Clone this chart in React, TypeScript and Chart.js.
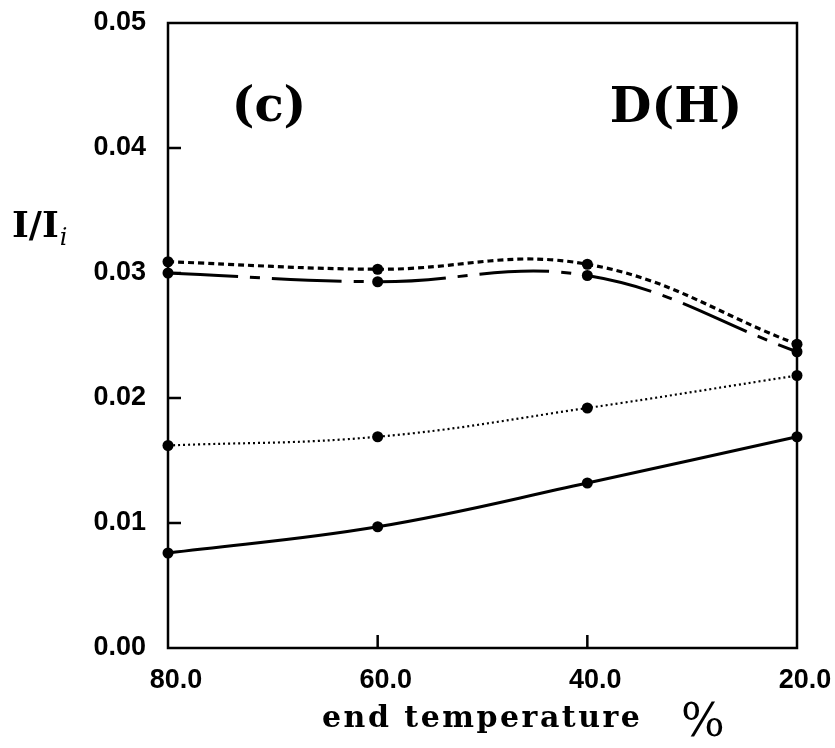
import React, { useEffect, useRef } from "react";
import { Chart, registerables } from "chart.js";
Chart.register(...registerables);

const temperatures = [80, 60, 40, 20];
const xTickValues = [80, 60, 40, 20];
const yTickValues = [0, 0.01, 0.02, 0.03, 0.04, 0.05];
const seriesSolid = [0.0076, 0.0097, 0.0132, 0.0169];
const seriesDotted = [0.0162, 0.0169, 0.0192, 0.0218];
const seriesShortDash = [0.0309, 0.0303, 0.0307, 0.0243];
const seriesLongDash = [0.03, 0.0293, 0.0298, 0.0237];
const panelLabel = "(c)";
const seriesLabel = "D(H)";
const xTitle = "end temperature";
const xUnit = "%";

const toPoints = (ys: number[]) => temperatures.map((t, i) => ({ x: t, y: ys[i] }));

const framePlugin = {
  id: "frame",
  beforeDatasetsDraw(chart: any) {
    const { ctx, chartArea } = chart;
    const xs = chart.scales.x;
    const ys = chart.scales.y;
    ctx.save();
    ctx.strokeStyle = "#000";
    ctx.lineWidth = 2.5;
    ctx.strokeRect(chartArea.left, chartArea.top, chartArea.right - chartArea.left, chartArea.bottom - chartArea.top);
    ctx.beginPath();
    yTickValues.forEach((v) => {
      if (v <= ys.min || v >= ys.max) return;
      const py = ys.getPixelForValue(v);
      ctx.moveTo(chartArea.left, py);
      ctx.lineTo(chartArea.left + 13, py);
    });
    xTickValues.forEach((v) => {
      if (v <= xs.min || v >= xs.max) return;
      const px = xs.getPixelForValue(v);
      ctx.moveTo(px, chartArea.bottom);
      ctx.lineTo(px, chartArea.bottom - 13);
    });
    ctx.stroke();
    ctx.restore();
  },
  afterDraw(chart: any) {
    const { ctx } = chart;
    ctx.save();
    ctx.fillStyle = "#000";
    ctx.textBaseline = "alphabetic";
    ctx.textAlign = "center";
    ctx.font = "bold 48px 'DejaVu Serif'";
    ctx.fillText(panelLabel, 269, 121);
    ctx.font = "bold 48px 'DejaVu Serif'";
    ctx.fillText(seriesLabel, 676, 122);
    ctx.textAlign = "left";
    ctx.font = "bold 36px 'DejaVu Serif'";
    ctx.fillText("I/I", 12, 237);
    const w = ctx.measureText("I/I").width;
    ctx.font = "italic 24px 'DejaVu Serif'";
    ctx.fillText("i", 12 + w + 1, 245);
    ctx.font = "bold 30px 'DejaVu Serif'";
    (ctx as any).letterSpacing = "2.5px";
    ctx.fillText(xTitle, 322, 727);
    (ctx as any).letterSpacing = "0px";
    ctx.font = "46px 'DejaVu Serif'";
    ctx.fillText(xUnit, 681, 736);
    ctx.restore();
  },
};

export default function App() {
  const ref = useRef<HTMLCanvasElement>(null);
  useEffect(() => {
    if (!ref.current) return;
    const common = {
      borderColor: "#000",
      backgroundColor: "#000",
      pointRadius: 5.5,
      pointBackgroundColor: "#000",
      pointBorderColor: "#000",
      pointBorderWidth: 0,
      tension: 0.4,
      fill: false,
      clip: false as any,
    };
    const chart = new Chart(ref.current, {
      type: "line",
      data: {
        datasets: [
          { ...common, label: "solid", data: toPoints(seriesSolid), borderWidth: 3 },
          { ...common, label: "dotted", data: toPoints(seriesDotted), borderWidth: 2.2, borderDash: [2, 3] },
          { ...common, label: "short dash", data: toPoints(seriesShortDash), borderWidth: 3.2, borderDash: [6, 4] },
          { ...common, label: "long dash", data: toPoints(seriesLongDash), borderWidth: 3, borderDash: [70, 12, 10, 12] },
        ],
      },
      options: {
        animation: false,
        responsive: false,
        layout: { padding: { left: 0, top: 23, right: 38, bottom: 0 } },
        plugins: { legend: { display: false }, tooltip: { enabled: false } },
        scales: {
          x: {
            type: "linear",
            reverse: true,
            min: 20,
            max: 80,
            afterBuildTicks: (s: any) => {
              s.ticks = xTickValues.map((v) => ({ value: v }));
            },
            afterFit: (s: any) => {
              s.height = 100;
              s.paddingLeft = 0;
              s.paddingRight = 0;
            },
            grid: { display: false, drawTicks: false },
            border: { display: false },
            ticks: {
              color: "#000",
              font: { family: "'Liberation Sans'", weight: "bold", size: 27 },
              padding: 16,
              labelOffset: 8,
              maxRotation: 0,
              callback: (v: any) => Number(v).toFixed(1),
            },
          },
          y: {
            type: "linear",
            min: 0,
            max: 0.05,
            afterBuildTicks: (s: any) => {
              s.ticks = yTickValues.map((v) => ({ value: v }));
            },
            afterFit: (s: any) => {
              s.width = 168;
              s.paddingTop = 0;
              s.paddingBottom = 0;
            },
            grid: { display: false, drawTicks: false },
            border: { display: false },
            ticks: {
              color: "#000",
              font: { family: "'Liberation Sans'", weight: "bold", size: 27 },
              padding: 22,
              callback: (v: any) => Number(v).toFixed(2),
            },
          },
        },
      },
      plugins: [framePlugin],
    } as any);
    return () => chart.destroy();
  }, []);
  return (
    <div style={{ position: "absolute", left: 0, top: 0, width: 835, height: 748, background: "#fff" }}>
      <canvas ref={ref} width={835} height={748} />
    </div>
  );
}
